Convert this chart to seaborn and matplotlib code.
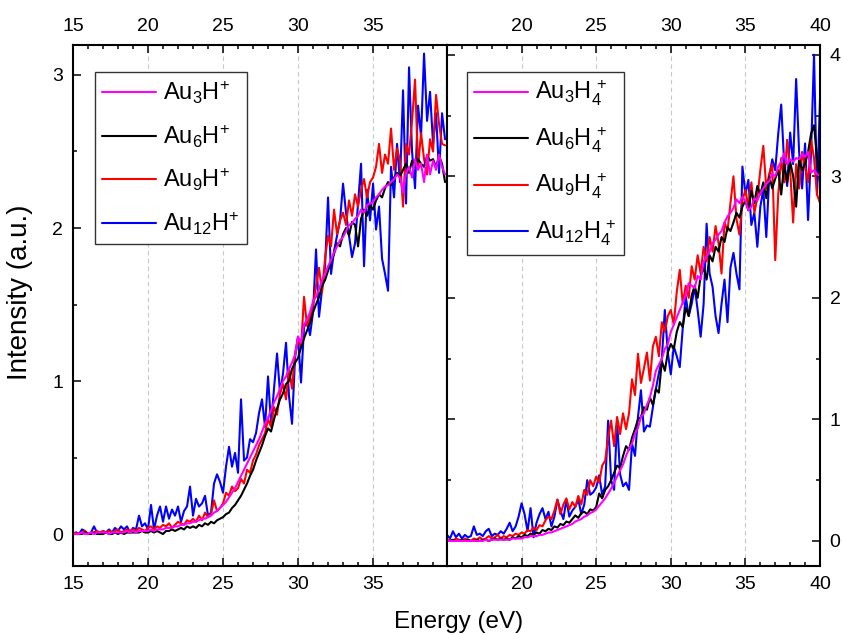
import numpy as np
import pandas as pd
import matplotlib
matplotlib.use("Agg")
import matplotlib.pyplot as plt
from matplotlib.lines import Line2D
from matplotlib.ticker import MultipleLocator, FixedLocator
import seaborn as sns

sns.set_theme(style="ticks")
plt.rcParams["font.family"] = ["Liberation Sans", "DejaVu Sans"]
plt.rcParams["mathtext.fontset"] = "custom"
plt.rcParams["mathtext.rm"] = "Liberation Sans"
plt.rcParams["mathtext.it"] = "Liberation Sans:italic"
plt.rcParams["mathtext.bf"] = "Liberation Sans:bold"
for key in ("text.color", "axes.labelcolor", "xtick.color", "ytick.color",
            "xtick.labelcolor", "ytick.labelcolor"):
    plt.rcParams[key] = "black"

# photon energy grids (eV)
energy_left = np.round(np.arange(15.0, 39.81, 0.2), 1)
energy_right = np.round(np.arange(15.0, 40.01, 0.2), 1)

# AunH+ yields
au3h = [
    0.00, 0.00, 0.00, 0.01, 0.00, 0.00, 0.01, 0.00, 0.01, 0.01,
    0.01, 0.01, 0.00, 0.01, 0.01, 0.01, 0.01, 0.01, 0.02, 0.01,
    0.02, 0.01, 0.02, 0.02, 0.02, 0.02, 0.03, 0.02, 0.03, 0.03,
    0.03, 0.04, 0.04, 0.04, 0.05, 0.05, 0.06, 0.06, 0.07, 0.07,
    0.08, 0.08, 0.09, 0.10, 0.10, 0.11, 0.12, 0.14, 0.15, 0.17,
    0.19, 0.21, 0.24, 0.27, 0.30, 0.34, 0.38, 0.42, 0.46, 0.50,
    0.54, 0.58, 0.62, 0.67, 0.72, 0.76, 0.81, 0.86, 0.90, 0.95,
    1.00, 1.03, 1.08, 1.12, 1.17, 1.29, 1.25, 1.37, 1.40, 1.45,
    1.52, 1.55, 1.60, 1.66, 1.70, 1.75, 1.79, 1.84, 1.88, 1.92,
    1.94, 1.98, 2.02, 2.03, 2.06, 2.08, 2.12, 2.10, 2.15, 2.16,
    2.17, 2.20, 2.22, 2.25, 2.27, 2.28, 2.30, 2.32, 2.35, 2.33,
    2.23, 2.36, 2.40, 2.33, 2.45, 2.38, 2.42, 2.30, 2.48, 2.35,
    2.44, 2.38, 2.48, 2.40, 2.35,
]
au6h = [
    0.00, 0.00, 0.00, 0.00, 0.01, 0.00, 0.00, 0.01, 0.00, 0.00,
    0.00, 0.01, 0.00, 0.00, 0.01, 0.00, 0.01, 0.00, 0.01, 0.01,
    0.01, 0.01, 0.01, 0.02, 0.01, 0.01, 0.02, 0.01, 0.02, 0.01,
    0.00, 0.02, 0.02, 0.03, 0.02, 0.03, 0.04, 0.03, 0.05, 0.04,
    0.05, 0.04, 0.06, 0.05, 0.07, 0.06, 0.08, 0.07, 0.09, 0.10,
    0.11, 0.13, 0.14, 0.17, 0.19, 0.22, 0.25, 0.29, 0.33, 0.38,
    0.42, 0.48, 0.53, 0.58, 0.64, 0.69, 0.67, 0.75, 0.82, 0.88,
    0.92, 0.98, 1.00, 1.08, 1.12, 1.15, 1.22, 1.28, 1.33, 1.38,
    1.45, 1.50, 1.55, 1.62, 1.66, 1.72, 1.78, 1.83, 1.90, 1.88,
    1.96, 2.00, 1.95, 2.04, 2.02, 1.88, 2.06, 2.12, 2.08, 2.15,
    2.12, 2.18, 2.22, 2.20, 2.26, 2.30, 2.28, 2.33, 2.36, 2.34,
    2.38, 2.42, 2.36, 2.44, 2.40, 2.45, 2.42, 2.40, 2.47, 2.44,
    2.45, 2.40, 2.47, 2.42, 2.30,
]
au9h = [
    0.00, 0.01, 0.00, 0.01, 0.02, 0.00, 0.01, 0.01, 0.02, 0.01,
    0.02, 0.01, 0.02, 0.01, 0.02, 0.03, 0.01, 0.02, 0.03, 0.02,
    0.03, 0.02, 0.04, 0.03, 0.02, 0.04, 0.05, 0.03, 0.05, 0.04,
    0.06, 0.05, 0.07, 0.04, 0.06, 0.08, 0.07, 0.06, 0.09, 0.08,
    0.10, 0.08, 0.12, 0.09, 0.14, 0.11, 0.13, 0.22, 0.15, 0.17,
    0.20, 0.27, 0.25, 0.31, 0.28, 0.30, 0.36, 0.33, 0.42, 0.40,
    0.48, 0.52, 0.58, 0.62, 0.66, 0.75, 0.70, 0.83, 0.78, 0.92,
    0.98, 0.88, 1.08, 0.95, 1.18, 1.28, 1.22, 1.55, 1.36, 1.42,
    1.50, 1.62, 1.74, 1.58, 1.80, 1.95, 1.88, 2.12, 1.96, 2.05,
    2.10, 2.02, 2.18, 2.08, 2.22, 2.14, 2.25, 2.32, 2.20, 2.30,
    2.33, 2.40, 2.55, 2.36, 2.48, 2.42, 2.65, 2.38, 2.52, 2.44,
    2.14, 2.55, 2.48, 2.70, 2.97, 2.40, 2.62, 2.45, 2.35, 2.58,
    2.50, 2.87, 2.68, 2.55, 2.54,
]
au12h = [
    0.00, 0.01, 0.00, 0.03, 0.02, 0.00, 0.01, 0.05, 0.01, 0.00,
    0.02, 0.01, 0.03, 0.01, 0.04, 0.02, 0.05, 0.03, 0.05, 0.01,
    0.04, 0.03, 0.12, 0.05, 0.07, 0.03, 0.19, 0.03, 0.12, 0.18,
    0.08, 0.18, 0.10, 0.16, 0.12, 0.18, 0.08, 0.15, 0.18, 0.31,
    0.12, 0.23, 0.18, 0.20, 0.25, 0.12, 0.14, 0.33, 0.39, 0.34,
    0.27, 0.44, 0.57, 0.44, 0.53, 0.40, 0.88, 0.48, 0.50, 0.62,
    0.60, 0.66, 0.79, 0.88, 0.70, 1.03, 0.72, 0.95, 1.18, 0.92,
    1.05, 1.25, 0.90, 0.72, 1.15, 1.29, 0.99, 1.35, 1.40, 1.30,
    1.45, 1.86, 1.42, 1.60, 1.75, 2.20, 1.70, 1.85, 1.95, 2.05,
    2.29, 2.10, 1.95, 1.81, 1.90, 2.16, 2.42, 1.75, 2.25, 2.05,
    2.29, 1.99, 2.14, 1.80, 1.70, 1.59, 2.40, 2.20, 2.55, 2.30,
    2.90, 2.16, 3.05, 2.50, 2.26, 2.80, 2.60, 3.14, 2.70, 2.89,
    2.55, 2.75, 2.36, 2.75, 2.58,
]

# AunH4+ yields
au3h4 = [
    0.00, 0.00, 0.00, 0.00, 0.00, 0.00, 0.00, 0.00, 0.00, 0.00,
    0.00, 0.00, 0.00, 0.01, 0.00, 0.01, 0.01, 0.01, 0.01, 0.01,
    0.01, 0.01, 0.02, 0.02, 0.02, 0.02, 0.03, 0.03, 0.04, 0.04,
    0.04, 0.05, 0.05, 0.06, 0.07, 0.07, 0.08, 0.09, 0.10, 0.11,
    0.12, 0.13, 0.14, 0.16, 0.17, 0.18, 0.20, 0.21, 0.23, 0.24,
    0.26, 0.29, 0.32, 0.35, 0.39, 0.43, 0.48, 0.53, 0.58, 0.63,
    0.70, 0.76, 0.80, 0.88, 0.93, 1.02, 1.05, 1.12, 1.18, 1.28,
    1.40, 1.45, 1.50, 1.58, 1.62, 1.72, 1.78, 1.84, 1.90, 1.96,
    2.02, 2.12, 2.10, 2.08, 2.18, 2.15, 2.30, 2.34, 2.38, 2.45,
    2.48, 2.52, 2.55, 2.62, 2.67, 2.70, 2.74, 2.81, 2.78, 2.83,
    2.80, 2.72, 2.75, 2.82, 2.80, 2.86, 2.90, 2.94, 2.96, 3.02,
    3.00, 3.08, 3.12, 3.19, 3.10, 3.14, 3.12, 3.15, 3.14, 3.18,
    3.16, 3.20, 3.03, 3.05, 3.02, 3.00,
]
au6h4 = [
    0.00, 0.00, 0.01, 0.00, 0.00, 0.01, 0.00, 0.01, 0.00, 0.00,
    0.01, 0.00, 0.01, 0.01, 0.00, 0.01, 0.02, 0.01, 0.02, 0.01,
    0.02, 0.01, 0.03, 0.02, 0.04, 0.03, 0.05, 0.04, 0.06, 0.05,
    0.07, 0.06, 0.09, 0.08, 0.10, 0.09, 0.12, 0.11, 0.14, 0.13,
    0.16, 0.15, 0.18, 0.21, 0.19, 0.23, 0.24, 0.22, 0.26, 0.25,
    0.28, 0.39, 0.35, 0.42, 0.45, 0.50, 0.56, 0.62, 0.60, 0.70,
    0.78, 0.75, 0.85, 0.92, 1.00, 1.02, 1.10, 1.08, 1.18, 1.12,
    1.25, 1.22, 1.48, 1.40, 1.55, 1.62, 1.58, 1.72, 1.80, 1.76,
    1.92, 1.85, 2.02, 2.10, 2.00, 2.18, 2.25, 2.15, 2.35, 2.30,
    2.42, 2.38, 2.50, 2.46, 2.58, 2.55, 2.62, 2.70, 2.66, 2.75,
    2.80, 2.72, 2.88, 2.78, 2.92, 2.85, 2.95, 2.82, 3.00, 2.90,
    2.98, 3.05, 2.85, 3.10, 2.95, 3.12, 3.00, 2.75, 3.15, 3.05,
    3.10, 3.20, 3.35, 3.42, 3.15, 2.95,
]
au9h4 = [
    0.00, 0.01, 0.00, 0.02, 0.01, 0.00, 0.02, 0.01, 0.00, 0.02,
    0.01, 0.03, 0.01, 0.02, 0.04, 0.02, 0.03, 0.05, 0.02, 0.04,
    0.03, 0.05, 0.04, 0.06, 0.05, 0.07, 0.06, 0.09, 0.08, 0.11,
    0.09, 0.13, 0.12, 0.17, 0.20, 0.18, 0.25, 0.34, 0.22, 0.30,
    0.35, 0.26, 0.32, 0.28, 0.37, 0.30, 0.42, 0.38, 0.50, 0.45,
    0.53, 0.48, 0.62, 0.66, 0.85, 0.99, 0.78, 1.02, 0.88, 1.05,
    0.92, 1.05, 1.33, 1.20, 1.54, 1.30, 1.42, 1.55, 1.32, 1.60,
    1.68, 1.52, 1.80, 1.72, 1.85, 1.90, 1.78, 2.05, 2.23, 1.95,
    2.10, 2.00, 2.26, 2.15, 2.35, 2.20, 2.42, 2.30, 2.50, 2.38,
    2.59, 2.45, 2.20, 2.62, 2.55, 2.78, 3.00, 2.65, 2.52, 2.80,
    2.89, 2.75, 2.95, 2.70, 2.82, 3.05, 3.25, 2.90, 3.02, 3.10,
    2.31, 2.85, 3.15, 2.95, 3.30, 3.05, 2.62, 3.10, 2.90, 3.20,
    3.08, 2.95, 3.30, 3.15, 2.85, 2.78,
]
au12h4 = [
    0.05, 0.02, 0.08, 0.03, 0.06, 0.02, 0.05, 0.03, 0.04, 0.12,
    0.05, 0.06, 0.04, 0.08, 0.10, 0.04, 0.06, 0.05, 0.08, 0.06,
    0.10, 0.15, 0.08, 0.12, 0.20, 0.31, 0.22, 0.08, 0.27, 0.03,
    0.15, 0.22, 0.27, 0.18, 0.24, 0.12, 0.20, 0.34, 0.25, 0.18,
    0.34, 0.20, 0.25, 0.28, 0.34, 0.22, 0.30, 0.50, 0.38, 0.40,
    0.44, 0.54, 0.38, 0.45, 0.99, 0.50, 0.42, 0.99, 0.55, 0.45,
    0.48, 0.42, 0.80, 0.70, 1.02, 1.24, 0.90, 0.95, 0.94, 1.10,
    1.25, 1.38, 1.50, 1.90, 1.55, 1.37, 1.60, 1.52, 1.43, 1.75,
    2.01, 1.85, 1.95, 2.09, 1.90, 1.68, 1.95, 2.61, 2.20, 2.09,
    1.85, 1.71, 1.95, 2.15, 1.80, 2.25, 2.37, 2.20, 2.07, 3.08,
    2.85, 2.97, 2.60, 2.70, 2.42, 2.75, 2.89, 2.50, 3.00, 3.14,
    3.05, 3.35, 3.59, 3.10, 2.92, 3.36, 3.10, 3.80, 3.20, 2.90,
    3.27, 2.64, 3.20, 4.00, 2.85, 3.63,
]

labels_left = [r"$\mathrm{Au_{3}H^{+}}$", r"$\mathrm{Au_{6}H^{+}}$",
               r"$\mathrm{Au_{9}H^{+}}$", r"$\mathrm{Au_{12}H^{+}}$"]
labels_right = [r"$\mathrm{Au_{3}H_{4}^{\,+}}$", r"$\mathrm{Au_{6}H_{4}^{\,+}}$",
                r"$\mathrm{Au_{9}H_{4}^{\,+}}$", r"$\mathrm{Au_{12}H_{4}^{\,+}}$"]
colors = ["#FF00FF", "#000000", "#FF0000", "#0000FF"]

df_left = pd.concat([
    pd.DataFrame({"energy": energy_left, "intensity": vals, "species": lab})
    for vals, lab in zip([au3h, au6h, au9h, au12h], labels_left)
], ignore_index=True)
df_right = pd.concat([
    pd.DataFrame({"energy": energy_right, "intensity": vals, "species": lab})
    for vals, lab in zip([au3h4, au6h4, au9h4, au12h4], labels_right)
], ignore_index=True)

W, H = 843, 635
fig = plt.figure(figsize=(W / 100, H / 100), dpi=100)
axL = fig.add_axes([73 / W, 69 / H, 374 / W, 521 / H])
axR = fig.add_axes([447 / W, 69 / H, 373 / W, 521 / H])

panels = ((axL, df_left, labels_left, 22 / 374),
          (axR, df_right, labels_right, 20 / 373))
for ax, df, labels, leg_x in panels:
    # blue underneath, magenta on top
    draw_order = labels[::-1]
    pal = dict(zip(labels, colors))
    sns.lineplot(data=df, x="energy", y="intensity", hue="species",
                 hue_order=draw_order, palette=pal, estimator=None, sort=False,
                 linewidth=1.5, legend=False, ax=ax)
    handles = [Line2D([], [], color=c, linewidth=1.5) for c in colors]
    leg = ax.legend(handles, labels, loc="upper left",
                    bbox_to_anchor=(leg_x, (566 - 72) / 521), borderaxespad=0,
                    fontsize=17, handlelength=2.3, handletextpad=0.3,
                    labelspacing=0.72, borderpad=0.3, frameon=True,
                    fancybox=False, framealpha=1)
    leg.get_frame().set_edgecolor("#333333")
    leg.get_frame().set_linewidth(1.0)
    ax.set_xlabel("")
    ax.set_ylabel("")
    ax.grid(axis="x", which="major", color="#c8c8c8", linestyle=(0, (4, 3)),
            linewidth=0.8)
    ax.set_axisbelow(True)
    for sp in ax.spines.values():
        sp.set_linewidth(1.5)
        sp.set_color("black")
    ax.xaxis.set_minor_locator(MultipleLocator(1))
    ax.yaxis.set_major_locator(MultipleLocator(1))
    ax.yaxis.set_minor_locator(MultipleLocator(0.5))
    ax.tick_params(which="major", direction="in", length=5.5, width=1.1,
                   labelsize=14, pad=7, color="black", labelcolor="black")
    ax.tick_params(which="minor", direction="in", length=3, width=1.1,
                   color="black")

axL.set_xlim(15, 39.93)
axL.set_ylim(-0.209, 3.196)
axL.xaxis.set_major_locator(FixedLocator([15, 20, 25, 30, 35]))
axL.tick_params(which="both", top=True, bottom=True, left=True, right=False,
                labeltop=True, labelbottom=True, labelleft=True, labelright=False)

axR.set_xlim(15, 40)
axR.set_ylim(-0.206, 4.08)
axR.xaxis.set_major_locator(FixedLocator([20, 25, 30, 35, 40]))
axR.tick_params(which="both", top=True, bottom=True, left=True, right=True,
                labeltop=True, labelbottom=True, labelleft=False, labelright=True)

fig.text(20 / W, 1 - 292 / H, "Intensity (a.u.)", rotation=90,
         ha="center", va="center", fontsize=20)
fig.text(459 / W, 7 / H, "Energy (eV)", ha="center", va="baseline", fontsize=17.5)

fig.savefig("out.png", dpi=100)
